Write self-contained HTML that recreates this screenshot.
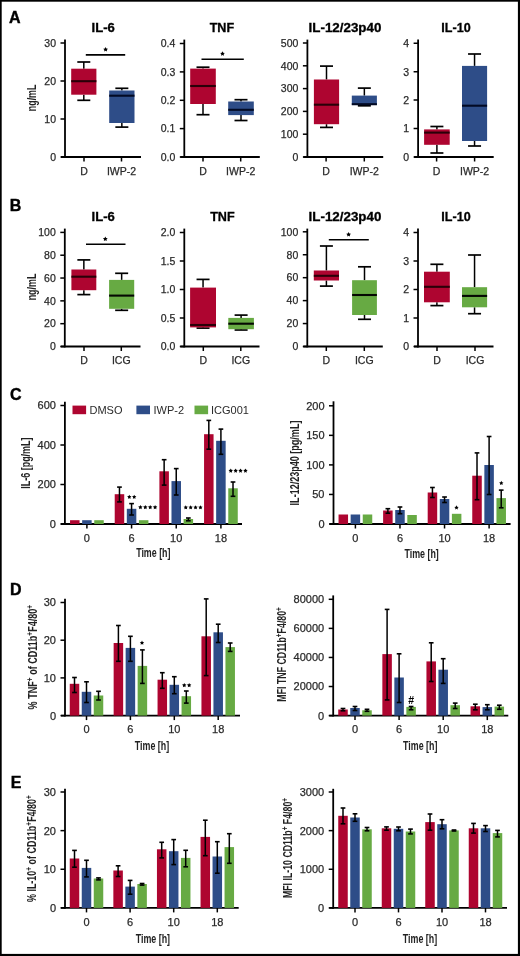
<!DOCTYPE html><html><head><meta charset="utf-8"><style>html,body{margin:0;padding:0;background:#fff;}svg{display:block;font-family:"Liberation Sans",sans-serif;}#w{will-change:transform;width:520px;height:956px;overflow:hidden;}</style></head><body><div id="w">
<svg width="520" height="956" viewBox="0 0 520 956">
<rect x="0" y="0" width="520" height="956" fill="#000"/>
<rect x="1.7" y="1.7" width="516.2" height="952.2" fill="#fff"/>
<text x="8.9" y="22.5" font-size="16" text-anchor="start" font-weight="bold" fill="#000" stroke="#000" stroke-width="0.4">A</text>
<text transform="translate(36.1,97.9) rotate(-90)" font-size="12.3" text-anchor="middle" font-weight="bold" fill="#222" textLength="26.6" lengthAdjust="spacingAndGlyphs">ng/mL</text>
<text x="103.2" y="31.9" font-size="12.3" text-anchor="middle" font-weight="bold" fill="#000" stroke="#000" stroke-width="0.3" textLength="23.3" lengthAdjust="spacingAndGlyphs">IL-6</text>
<line x1="65" y1="39.6" x2="65" y2="157.9" stroke="#000" stroke-width="1.8"/>
<line x1="61" y1="157" x2="141" y2="157" stroke="#000" stroke-width="1.8"/>
<line x1="60.5" y1="157" x2="65" y2="157" stroke="#000" stroke-width="1.5"/>
<text x="56" y="160.78" font-size="10.5" text-anchor="end" font-weight="normal" fill="#2a2a2a" stroke="#2a2a2a" stroke-width="0.25">0</text>
<line x1="60.5" y1="119" x2="65" y2="119" stroke="#000" stroke-width="1.5"/>
<text x="56" y="122.78" font-size="10.5" text-anchor="end" font-weight="normal" fill="#2a2a2a" stroke="#2a2a2a" stroke-width="0.25">10</text>
<line x1="60.5" y1="81" x2="65" y2="81" stroke="#000" stroke-width="1.5"/>
<text x="56" y="84.78" font-size="10.5" text-anchor="end" font-weight="normal" fill="#2a2a2a" stroke="#2a2a2a" stroke-width="0.25">20</text>
<line x1="60.5" y1="43" x2="65" y2="43" stroke="#000" stroke-width="1.5"/>
<text x="56" y="46.78" font-size="10.5" text-anchor="end" font-weight="normal" fill="#2a2a2a" stroke="#2a2a2a" stroke-width="0.25">30</text>
<line x1="84" y1="157" x2="84" y2="161.5" stroke="#000" stroke-width="1.5"/>
<text x="84" y="174.8" font-size="10.5" text-anchor="middle" font-weight="normal" fill="#2a2a2a" stroke="#2a2a2a" stroke-width="0.25">D</text>
<line x1="121.5" y1="157" x2="121.5" y2="161.5" stroke="#000" stroke-width="1.5"/>
<text x="121.5" y="174.8" font-size="10.5" text-anchor="middle" font-weight="normal" fill="#2a2a2a" stroke="#2a2a2a" stroke-width="0.25">IWP-2</text>
<line x1="83.8" y1="62" x2="83.8" y2="68.7" stroke="#000" stroke-width="1.5"/>
<line x1="83.8" y1="94.7" x2="83.8" y2="100.3" stroke="#000" stroke-width="1.5"/>
<line x1="77.3" y1="62" x2="90.3" y2="62" stroke="#000" stroke-width="1.7"/>
<line x1="77.3" y1="100.3" x2="90.3" y2="100.3" stroke="#000" stroke-width="1.7"/>
<rect x="71.2" y="68.7" width="25.2" height="26" fill="#AE0530"/>
<line x1="71.2" y1="81.2" x2="96.4" y2="81.2" stroke="#2a0008" stroke-width="2.1"/>
<line x1="121.85" y1="88.3" x2="121.85" y2="90.5" stroke="#000" stroke-width="1.5"/>
<line x1="121.85" y1="123" x2="121.85" y2="127.1" stroke="#000" stroke-width="1.5"/>
<line x1="115.35" y1="88.3" x2="128.35" y2="88.3" stroke="#000" stroke-width="1.7"/>
<line x1="115.35" y1="127.1" x2="128.35" y2="127.1" stroke="#000" stroke-width="1.7"/>
<rect x="109.2" y="90.5" width="25.3" height="32.5" fill="#2E4D88"/>
<line x1="109.2" y1="95.7" x2="134.5" y2="95.7" stroke="#020a24" stroke-width="2.1"/>
<line x1="85.8" y1="54.9" x2="125.2" y2="54.9" stroke="#000" stroke-width="1.6"/>
<polygon points="105.6,47.1 106.33,48.59 107.98,48.83 106.79,49.99 107.07,51.62 105.6,50.85 104.13,51.62 104.41,49.99 103.22,48.83 104.87,48.59" fill="#000"/>
<text x="221.9" y="31.9" font-size="12.3" text-anchor="middle" font-weight="bold" fill="#000" stroke="#000" stroke-width="0.3" textLength="24.5" lengthAdjust="spacingAndGlyphs">TNF</text>
<line x1="184.3" y1="39.6" x2="184.3" y2="157.9" stroke="#000" stroke-width="1.8"/>
<line x1="180.3" y1="157" x2="259.8" y2="157" stroke="#000" stroke-width="1.8"/>
<line x1="179.8" y1="157" x2="184.3" y2="157" stroke="#000" stroke-width="1.5"/>
<text x="175.3" y="160.78" font-size="10.5" text-anchor="end" font-weight="normal" fill="#2a2a2a" stroke="#2a2a2a" stroke-width="0.25">0.0</text>
<line x1="179.8" y1="128.6" x2="184.3" y2="128.6" stroke="#000" stroke-width="1.5"/>
<text x="175.3" y="132.38" font-size="10.5" text-anchor="end" font-weight="normal" fill="#2a2a2a" stroke="#2a2a2a" stroke-width="0.25">0.1</text>
<line x1="179.8" y1="100.3" x2="184.3" y2="100.3" stroke="#000" stroke-width="1.5"/>
<text x="175.3" y="104.08" font-size="10.5" text-anchor="end" font-weight="normal" fill="#2a2a2a" stroke="#2a2a2a" stroke-width="0.25">0.2</text>
<line x1="179.8" y1="71.9" x2="184.3" y2="71.9" stroke="#000" stroke-width="1.5"/>
<text x="175.3" y="75.68" font-size="10.5" text-anchor="end" font-weight="normal" fill="#2a2a2a" stroke="#2a2a2a" stroke-width="0.25">0.3</text>
<line x1="179.8" y1="43.5" x2="184.3" y2="43.5" stroke="#000" stroke-width="1.5"/>
<text x="175.3" y="47.28" font-size="10.5" text-anchor="end" font-weight="normal" fill="#2a2a2a" stroke="#2a2a2a" stroke-width="0.25">0.4</text>
<line x1="203" y1="157" x2="203" y2="161.5" stroke="#000" stroke-width="1.5"/>
<text x="203" y="174.8" font-size="10.5" text-anchor="middle" font-weight="normal" fill="#2a2a2a" stroke="#2a2a2a" stroke-width="0.25">D</text>
<line x1="240.7" y1="157" x2="240.7" y2="161.5" stroke="#000" stroke-width="1.5"/>
<text x="240.7" y="174.8" font-size="10.5" text-anchor="middle" font-weight="normal" fill="#2a2a2a" stroke="#2a2a2a" stroke-width="0.25">IWP-2</text>
<line x1="203" y1="67.2" x2="203" y2="68.6" stroke="#000" stroke-width="1.5"/>
<line x1="203" y1="104" x2="203" y2="114.7" stroke="#000" stroke-width="1.5"/>
<line x1="196.5" y1="67.2" x2="209.5" y2="67.2" stroke="#000" stroke-width="1.7"/>
<line x1="196.5" y1="114.7" x2="209.5" y2="114.7" stroke="#000" stroke-width="1.7"/>
<rect x="190.2" y="68.6" width="25.6" height="35.4" fill="#AE0530"/>
<line x1="190.2" y1="86" x2="215.8" y2="86" stroke="#2a0008" stroke-width="2.1"/>
<line x1="241" y1="99.7" x2="241" y2="101.5" stroke="#000" stroke-width="1.5"/>
<line x1="241" y1="115.1" x2="241" y2="120.5" stroke="#000" stroke-width="1.5"/>
<line x1="234.5" y1="99.7" x2="247.5" y2="99.7" stroke="#000" stroke-width="1.7"/>
<line x1="234.5" y1="120.5" x2="247.5" y2="120.5" stroke="#000" stroke-width="1.7"/>
<rect x="228.2" y="101.5" width="25.6" height="13.6" fill="#2E4D88"/>
<line x1="228.2" y1="109.8" x2="253.8" y2="109.8" stroke="#020a24" stroke-width="2.1"/>
<line x1="201.5" y1="59.3" x2="243.8" y2="59.3" stroke="#000" stroke-width="1.6"/>
<polygon points="222.5,51.2 223.23,52.69 224.88,52.93 223.69,54.09 223.97,55.72 222.5,54.95 221.03,55.72 221.31,54.09 220.12,52.93 221.77,52.69" fill="#000"/>
<text x="345" y="31.9" font-size="12.3" text-anchor="middle" font-weight="bold" fill="#000" stroke="#000" stroke-width="0.3" textLength="72.8" lengthAdjust="spacingAndGlyphs">IL-12/23p40</text>
<line x1="307.4" y1="39.6" x2="307.4" y2="157.9" stroke="#000" stroke-width="1.8"/>
<line x1="303.4" y1="157" x2="383.2" y2="157" stroke="#000" stroke-width="1.8"/>
<line x1="302.9" y1="157" x2="307.4" y2="157" stroke="#000" stroke-width="1.5"/>
<text x="298.4" y="160.78" font-size="10.5" text-anchor="end" font-weight="normal" fill="#2a2a2a" stroke="#2a2a2a" stroke-width="0.25">0</text>
<line x1="302.9" y1="134.2" x2="307.4" y2="134.2" stroke="#000" stroke-width="1.5"/>
<text x="298.4" y="137.98" font-size="10.5" text-anchor="end" font-weight="normal" fill="#2a2a2a" stroke="#2a2a2a" stroke-width="0.25">100</text>
<line x1="302.9" y1="111.4" x2="307.4" y2="111.4" stroke="#000" stroke-width="1.5"/>
<text x="298.4" y="115.18" font-size="10.5" text-anchor="end" font-weight="normal" fill="#2a2a2a" stroke="#2a2a2a" stroke-width="0.25">200</text>
<line x1="302.9" y1="88.6" x2="307.4" y2="88.6" stroke="#000" stroke-width="1.5"/>
<text x="298.4" y="92.38" font-size="10.5" text-anchor="end" font-weight="normal" fill="#2a2a2a" stroke="#2a2a2a" stroke-width="0.25">300</text>
<line x1="302.9" y1="65.8" x2="307.4" y2="65.8" stroke="#000" stroke-width="1.5"/>
<text x="298.4" y="69.58" font-size="10.5" text-anchor="end" font-weight="normal" fill="#2a2a2a" stroke="#2a2a2a" stroke-width="0.25">400</text>
<line x1="302.9" y1="43" x2="307.4" y2="43" stroke="#000" stroke-width="1.5"/>
<text x="298.4" y="46.78" font-size="10.5" text-anchor="end" font-weight="normal" fill="#2a2a2a" stroke="#2a2a2a" stroke-width="0.25">500</text>
<line x1="326.1" y1="157" x2="326.1" y2="161.5" stroke="#000" stroke-width="1.5"/>
<text x="326.1" y="174.8" font-size="10.5" text-anchor="middle" font-weight="normal" fill="#2a2a2a" stroke="#2a2a2a" stroke-width="0.25">D</text>
<line x1="364.3" y1="157" x2="364.3" y2="161.5" stroke="#000" stroke-width="1.5"/>
<text x="364.3" y="174.8" font-size="10.5" text-anchor="middle" font-weight="normal" fill="#2a2a2a" stroke="#2a2a2a" stroke-width="0.25">IWP-2</text>
<line x1="326.5" y1="66.1" x2="326.5" y2="79.5" stroke="#000" stroke-width="1.5"/>
<line x1="326.5" y1="124.2" x2="326.5" y2="127.4" stroke="#000" stroke-width="1.5"/>
<line x1="320" y1="66.1" x2="333" y2="66.1" stroke="#000" stroke-width="1.7"/>
<line x1="320" y1="127.4" x2="333" y2="127.4" stroke="#000" stroke-width="1.7"/>
<rect x="313.9" y="79.5" width="25.2" height="44.7" fill="#AE0530"/>
<line x1="313.9" y1="104.7" x2="339.1" y2="104.7" stroke="#2a0008" stroke-width="2.1"/>
<line x1="364.35" y1="88.1" x2="364.35" y2="95.6" stroke="#000" stroke-width="1.5"/>
<line x1="364.35" y1="105" x2="364.35" y2="105.8" stroke="#000" stroke-width="1.5"/>
<line x1="357.85" y1="88.1" x2="370.85" y2="88.1" stroke="#000" stroke-width="1.7"/>
<line x1="357.85" y1="105.8" x2="370.85" y2="105.8" stroke="#000" stroke-width="1.7"/>
<rect x="351.8" y="95.6" width="25.1" height="9.4" fill="#2E4D88"/>
<line x1="351.8" y1="104.2" x2="376.9" y2="104.2" stroke="#020a24" stroke-width="2.1"/>
<text x="456" y="31.9" font-size="12.3" text-anchor="middle" font-weight="bold" fill="#000" stroke="#000" stroke-width="0.3" textLength="29.3" lengthAdjust="spacingAndGlyphs">IL-10</text>
<line x1="418.1" y1="39.6" x2="418.1" y2="157.9" stroke="#000" stroke-width="1.8"/>
<line x1="414.1" y1="157" x2="493.7" y2="157" stroke="#000" stroke-width="1.8"/>
<line x1="413.6" y1="157" x2="418.1" y2="157" stroke="#000" stroke-width="1.5"/>
<text x="409.1" y="160.78" font-size="10.5" text-anchor="end" font-weight="normal" fill="#2a2a2a" stroke="#2a2a2a" stroke-width="0.25">0</text>
<line x1="413.6" y1="128.5" x2="418.1" y2="128.5" stroke="#000" stroke-width="1.5"/>
<text x="409.1" y="132.28" font-size="10.5" text-anchor="end" font-weight="normal" fill="#2a2a2a" stroke="#2a2a2a" stroke-width="0.25">1</text>
<line x1="413.6" y1="100" x2="418.1" y2="100" stroke="#000" stroke-width="1.5"/>
<text x="409.1" y="103.78" font-size="10.5" text-anchor="end" font-weight="normal" fill="#2a2a2a" stroke="#2a2a2a" stroke-width="0.25">2</text>
<line x1="413.6" y1="71.75" x2="418.1" y2="71.75" stroke="#000" stroke-width="1.5"/>
<text x="409.1" y="75.53" font-size="10.5" text-anchor="end" font-weight="normal" fill="#2a2a2a" stroke="#2a2a2a" stroke-width="0.25">3</text>
<line x1="413.6" y1="43.25" x2="418.1" y2="43.25" stroke="#000" stroke-width="1.5"/>
<text x="409.1" y="47.03" font-size="10.5" text-anchor="end" font-weight="normal" fill="#2a2a2a" stroke="#2a2a2a" stroke-width="0.25">4</text>
<line x1="436.6" y1="157" x2="436.6" y2="161.5" stroke="#000" stroke-width="1.5"/>
<text x="436.6" y="174.8" font-size="10.5" text-anchor="middle" font-weight="normal" fill="#2a2a2a" stroke="#2a2a2a" stroke-width="0.25">D</text>
<line x1="474.6" y1="157" x2="474.6" y2="161.5" stroke="#000" stroke-width="1.5"/>
<text x="474.6" y="174.8" font-size="10.5" text-anchor="middle" font-weight="normal" fill="#2a2a2a" stroke="#2a2a2a" stroke-width="0.25">IWP-2</text>
<line x1="436.9" y1="126.5" x2="436.9" y2="129.4" stroke="#000" stroke-width="1.5"/>
<line x1="436.9" y1="144.8" x2="436.9" y2="153" stroke="#000" stroke-width="1.5"/>
<line x1="430.4" y1="126.5" x2="443.4" y2="126.5" stroke="#000" stroke-width="1.7"/>
<line x1="430.4" y1="153" x2="443.4" y2="153" stroke="#000" stroke-width="1.7"/>
<rect x="424.1" y="129.4" width="25.6" height="15.4" fill="#AE0530"/>
<line x1="424.1" y1="132.6" x2="449.7" y2="132.6" stroke="#2a0008" stroke-width="2.1"/>
<line x1="474.55" y1="54" x2="474.55" y2="65.9" stroke="#000" stroke-width="1.5"/>
<line x1="474.55" y1="141" x2="474.55" y2="146" stroke="#000" stroke-width="1.5"/>
<line x1="468.05" y1="54" x2="481.05" y2="54" stroke="#000" stroke-width="1.7"/>
<line x1="468.05" y1="146" x2="481.05" y2="146" stroke="#000" stroke-width="1.7"/>
<rect x="462" y="65.9" width="25.1" height="75.1" fill="#2E4D88"/>
<line x1="462" y1="105.7" x2="487.1" y2="105.7" stroke="#020a24" stroke-width="2.1"/>
<text x="9.8" y="210.9" font-size="16" text-anchor="start" font-weight="bold" fill="#000" stroke="#000" stroke-width="0.4">B</text>
<text transform="translate(36.3,287) rotate(-90)" font-size="12.3" text-anchor="middle" font-weight="bold" fill="#222" textLength="26.7" lengthAdjust="spacingAndGlyphs">ng/mL</text>
<text x="103.2" y="221" font-size="12.3" text-anchor="middle" font-weight="bold" fill="#000" stroke="#000" stroke-width="0.3" textLength="23.3" lengthAdjust="spacingAndGlyphs">IL-6</text>
<line x1="64.8" y1="228.6" x2="64.8" y2="347.4" stroke="#000" stroke-width="1.8"/>
<line x1="60.8" y1="346.5" x2="140.5" y2="346.5" stroke="#000" stroke-width="1.8"/>
<line x1="60.3" y1="346.5" x2="64.8" y2="346.5" stroke="#000" stroke-width="1.5"/>
<text x="55.8" y="350.28" font-size="10.5" text-anchor="end" font-weight="normal" fill="#2a2a2a" stroke="#2a2a2a" stroke-width="0.25">0</text>
<line x1="60.3" y1="323.68" x2="64.8" y2="323.68" stroke="#000" stroke-width="1.5"/>
<text x="55.8" y="327.46" font-size="10.5" text-anchor="end" font-weight="normal" fill="#2a2a2a" stroke="#2a2a2a" stroke-width="0.25">20</text>
<line x1="60.3" y1="300.86" x2="64.8" y2="300.86" stroke="#000" stroke-width="1.5"/>
<text x="55.8" y="304.64" font-size="10.5" text-anchor="end" font-weight="normal" fill="#2a2a2a" stroke="#2a2a2a" stroke-width="0.25">40</text>
<line x1="60.3" y1="278.04" x2="64.8" y2="278.04" stroke="#000" stroke-width="1.5"/>
<text x="55.8" y="281.82" font-size="10.5" text-anchor="end" font-weight="normal" fill="#2a2a2a" stroke="#2a2a2a" stroke-width="0.25">60</text>
<line x1="60.3" y1="255.22" x2="64.8" y2="255.22" stroke="#000" stroke-width="1.5"/>
<text x="55.8" y="259" font-size="10.5" text-anchor="end" font-weight="normal" fill="#2a2a2a" stroke="#2a2a2a" stroke-width="0.25">80</text>
<line x1="60.3" y1="232.4" x2="64.8" y2="232.4" stroke="#000" stroke-width="1.5"/>
<text x="55.8" y="236.18" font-size="10.5" text-anchor="end" font-weight="normal" fill="#2a2a2a" stroke="#2a2a2a" stroke-width="0.25">100</text>
<line x1="84" y1="346.5" x2="84" y2="351" stroke="#000" stroke-width="1.5"/>
<text x="84" y="363.8" font-size="10.5" text-anchor="middle" font-weight="normal" fill="#2a2a2a" stroke="#2a2a2a" stroke-width="0.25">D</text>
<line x1="121.3" y1="346.5" x2="121.3" y2="351" stroke="#000" stroke-width="1.5"/>
<text x="121.3" y="363.8" font-size="10.5" text-anchor="middle" font-weight="normal" fill="#2a2a2a" stroke="#2a2a2a" stroke-width="0.25">ICG</text>
<line x1="83.85" y1="259.9" x2="83.85" y2="269.5" stroke="#000" stroke-width="1.5"/>
<line x1="83.85" y1="290.2" x2="83.85" y2="294.6" stroke="#000" stroke-width="1.5"/>
<line x1="77.35" y1="259.9" x2="90.35" y2="259.9" stroke="#000" stroke-width="1.7"/>
<line x1="77.35" y1="294.6" x2="90.35" y2="294.6" stroke="#000" stroke-width="1.7"/>
<rect x="71.4" y="269.5" width="24.9" height="20.7" fill="#AE0530"/>
<line x1="71.4" y1="276.7" x2="96.3" y2="276.7" stroke="#2a0008" stroke-width="2.1"/>
<line x1="121.65" y1="273.3" x2="121.65" y2="279.9" stroke="#000" stroke-width="1.5"/>
<line x1="121.65" y1="308.8" x2="121.65" y2="310.3" stroke="#000" stroke-width="1.5"/>
<line x1="115.15" y1="273.3" x2="128.15" y2="273.3" stroke="#000" stroke-width="1.7"/>
<line x1="115.15" y1="310.3" x2="128.15" y2="310.3" stroke="#000" stroke-width="1.7"/>
<rect x="109.1" y="279.9" width="25.1" height="28.9" fill="#67AA43"/>
<line x1="109.1" y1="295.6" x2="134.2" y2="295.6" stroke="#040802" stroke-width="2.1"/>
<line x1="86" y1="244.2" x2="125.5" y2="244.2" stroke="#000" stroke-width="1.6"/>
<polygon points="105.3,236.6 106.03,238.09 107.68,238.33 106.49,239.49 106.77,241.12 105.3,240.35 103.83,241.12 104.11,239.49 102.92,238.33 104.57,238.09" fill="#000"/>
<text x="222.4" y="221" font-size="12.3" text-anchor="middle" font-weight="bold" fill="#000" stroke="#000" stroke-width="0.3" textLength="24.5" lengthAdjust="spacingAndGlyphs">TNF</text>
<line x1="184.3" y1="228.6" x2="184.3" y2="347.4" stroke="#000" stroke-width="1.8"/>
<line x1="180.3" y1="346.5" x2="259.5" y2="346.5" stroke="#000" stroke-width="1.8"/>
<line x1="179.8" y1="346.5" x2="184.3" y2="346.5" stroke="#000" stroke-width="1.5"/>
<text x="175.3" y="350.28" font-size="10.5" text-anchor="end" font-weight="normal" fill="#2a2a2a" stroke="#2a2a2a" stroke-width="0.25">0.0</text>
<line x1="179.8" y1="318" x2="184.3" y2="318" stroke="#000" stroke-width="1.5"/>
<text x="175.3" y="321.78" font-size="10.5" text-anchor="end" font-weight="normal" fill="#2a2a2a" stroke="#2a2a2a" stroke-width="0.25">0.5</text>
<line x1="179.8" y1="289.5" x2="184.3" y2="289.5" stroke="#000" stroke-width="1.5"/>
<text x="175.3" y="293.28" font-size="10.5" text-anchor="end" font-weight="normal" fill="#2a2a2a" stroke="#2a2a2a" stroke-width="0.25">1.0</text>
<line x1="179.8" y1="261" x2="184.3" y2="261" stroke="#000" stroke-width="1.5"/>
<text x="175.3" y="264.78" font-size="10.5" text-anchor="end" font-weight="normal" fill="#2a2a2a" stroke="#2a2a2a" stroke-width="0.25">1.5</text>
<line x1="179.8" y1="232.5" x2="184.3" y2="232.5" stroke="#000" stroke-width="1.5"/>
<text x="175.3" y="236.28" font-size="10.5" text-anchor="end" font-weight="normal" fill="#2a2a2a" stroke="#2a2a2a" stroke-width="0.25">2.0</text>
<line x1="203.3" y1="346.5" x2="203.3" y2="351" stroke="#000" stroke-width="1.5"/>
<text x="203.3" y="363.8" font-size="10.5" text-anchor="middle" font-weight="normal" fill="#2a2a2a" stroke="#2a2a2a" stroke-width="0.25">D</text>
<line x1="240.8" y1="346.5" x2="240.8" y2="351" stroke="#000" stroke-width="1.5"/>
<text x="240.8" y="363.8" font-size="10.5" text-anchor="middle" font-weight="normal" fill="#2a2a2a" stroke="#2a2a2a" stroke-width="0.25">ICG</text>
<line x1="203.05" y1="279.4" x2="203.05" y2="287.6" stroke="#000" stroke-width="1.5"/>
<line x1="203.05" y1="327.4" x2="203.05" y2="328.1" stroke="#000" stroke-width="1.5"/>
<line x1="196.55" y1="279.4" x2="209.55" y2="279.4" stroke="#000" stroke-width="1.7"/>
<line x1="196.55" y1="328.1" x2="209.55" y2="328.1" stroke="#000" stroke-width="1.7"/>
<rect x="190.1" y="287.6" width="25.9" height="39.8" fill="#AE0530"/>
<line x1="190.1" y1="325" x2="216" y2="325" stroke="#2a0008" stroke-width="2.1"/>
<line x1="241.1" y1="315.1" x2="241.1" y2="317.9" stroke="#000" stroke-width="1.5"/>
<line x1="241.1" y1="329.2" x2="241.1" y2="330" stroke="#000" stroke-width="1.5"/>
<line x1="234.6" y1="315.1" x2="247.6" y2="315.1" stroke="#000" stroke-width="1.7"/>
<line x1="234.6" y1="330" x2="247.6" y2="330" stroke="#000" stroke-width="1.7"/>
<rect x="228.3" y="317.9" width="25.6" height="11.3" fill="#67AA43"/>
<line x1="228.3" y1="323.7" x2="253.9" y2="323.7" stroke="#040802" stroke-width="2.1"/>
<text x="345" y="221" font-size="12.3" text-anchor="middle" font-weight="bold" fill="#000" stroke="#000" stroke-width="0.3" textLength="72.8" lengthAdjust="spacingAndGlyphs">IL-12/23p40</text>
<line x1="307.3" y1="228.6" x2="307.3" y2="347.4" stroke="#000" stroke-width="1.8"/>
<line x1="303.3" y1="346.5" x2="382.8" y2="346.5" stroke="#000" stroke-width="1.8"/>
<line x1="302.8" y1="346.5" x2="307.3" y2="346.5" stroke="#000" stroke-width="1.5"/>
<text x="298.3" y="350.28" font-size="10.5" text-anchor="end" font-weight="normal" fill="#2a2a2a" stroke="#2a2a2a" stroke-width="0.25">0</text>
<line x1="302.8" y1="323.56" x2="307.3" y2="323.56" stroke="#000" stroke-width="1.5"/>
<text x="298.3" y="327.34" font-size="10.5" text-anchor="end" font-weight="normal" fill="#2a2a2a" stroke="#2a2a2a" stroke-width="0.25">20</text>
<line x1="302.8" y1="300.62" x2="307.3" y2="300.62" stroke="#000" stroke-width="1.5"/>
<text x="298.3" y="304.4" font-size="10.5" text-anchor="end" font-weight="normal" fill="#2a2a2a" stroke="#2a2a2a" stroke-width="0.25">40</text>
<line x1="302.8" y1="277.68" x2="307.3" y2="277.68" stroke="#000" stroke-width="1.5"/>
<text x="298.3" y="281.46" font-size="10.5" text-anchor="end" font-weight="normal" fill="#2a2a2a" stroke="#2a2a2a" stroke-width="0.25">60</text>
<line x1="302.8" y1="254.74" x2="307.3" y2="254.74" stroke="#000" stroke-width="1.5"/>
<text x="298.3" y="258.52" font-size="10.5" text-anchor="end" font-weight="normal" fill="#2a2a2a" stroke="#2a2a2a" stroke-width="0.25">80</text>
<line x1="302.8" y1="231.8" x2="307.3" y2="231.8" stroke="#000" stroke-width="1.5"/>
<text x="298.3" y="235.58" font-size="10.5" text-anchor="end" font-weight="normal" fill="#2a2a2a" stroke="#2a2a2a" stroke-width="0.25">100</text>
<line x1="326.3" y1="346.5" x2="326.3" y2="351" stroke="#000" stroke-width="1.5"/>
<text x="326.3" y="363.8" font-size="10.5" text-anchor="middle" font-weight="normal" fill="#2a2a2a" stroke="#2a2a2a" stroke-width="0.25">D</text>
<line x1="364.3" y1="346.5" x2="364.3" y2="351" stroke="#000" stroke-width="1.5"/>
<text x="364.3" y="363.8" font-size="10.5" text-anchor="middle" font-weight="normal" fill="#2a2a2a" stroke="#2a2a2a" stroke-width="0.25">ICG</text>
<line x1="326.4" y1="246" x2="326.4" y2="270.5" stroke="#000" stroke-width="1.5"/>
<line x1="326.4" y1="280.5" x2="326.4" y2="286.1" stroke="#000" stroke-width="1.5"/>
<line x1="319.9" y1="246" x2="332.9" y2="246" stroke="#000" stroke-width="1.7"/>
<line x1="319.9" y1="286.1" x2="332.9" y2="286.1" stroke="#000" stroke-width="1.7"/>
<rect x="313.8" y="270.5" width="25.2" height="10" fill="#AE0530"/>
<line x1="313.8" y1="275.8" x2="339" y2="275.8" stroke="#2a0008" stroke-width="2.1"/>
<line x1="364.5" y1="266.8" x2="364.5" y2="280.2" stroke="#000" stroke-width="1.5"/>
<line x1="364.5" y1="315" x2="364.5" y2="319.3" stroke="#000" stroke-width="1.5"/>
<line x1="358" y1="266.8" x2="371" y2="266.8" stroke="#000" stroke-width="1.7"/>
<line x1="358" y1="319.3" x2="371" y2="319.3" stroke="#000" stroke-width="1.7"/>
<rect x="352.1" y="280.2" width="24.8" height="34.8" fill="#67AA43"/>
<line x1="352.1" y1="295" x2="376.9" y2="295" stroke="#040802" stroke-width="2.1"/>
<line x1="328.8" y1="239.7" x2="368.8" y2="239.7" stroke="#000" stroke-width="1.6"/>
<polygon points="348.6,232 349.33,233.49 350.98,233.73 349.79,234.89 350.07,236.52 348.6,235.75 347.13,236.52 347.41,234.89 346.22,233.73 347.87,233.49" fill="#000"/>
<text x="456" y="221" font-size="12.3" text-anchor="middle" font-weight="bold" fill="#000" stroke="#000" stroke-width="0.3" textLength="29.3" lengthAdjust="spacingAndGlyphs">IL-10</text>
<line x1="418" y1="228.6" x2="418" y2="347.4" stroke="#000" stroke-width="1.8"/>
<line x1="414" y1="346.5" x2="493.5" y2="346.5" stroke="#000" stroke-width="1.8"/>
<line x1="413.5" y1="346.5" x2="418" y2="346.5" stroke="#000" stroke-width="1.5"/>
<text x="409" y="350.28" font-size="10.5" text-anchor="end" font-weight="normal" fill="#2a2a2a" stroke="#2a2a2a" stroke-width="0.25">0</text>
<line x1="413.5" y1="318" x2="418" y2="318" stroke="#000" stroke-width="1.5"/>
<text x="409" y="321.78" font-size="10.5" text-anchor="end" font-weight="normal" fill="#2a2a2a" stroke="#2a2a2a" stroke-width="0.25">1</text>
<line x1="413.5" y1="289.5" x2="418" y2="289.5" stroke="#000" stroke-width="1.5"/>
<text x="409" y="293.28" font-size="10.5" text-anchor="end" font-weight="normal" fill="#2a2a2a" stroke="#2a2a2a" stroke-width="0.25">2</text>
<line x1="413.5" y1="261" x2="418" y2="261" stroke="#000" stroke-width="1.5"/>
<text x="409" y="264.78" font-size="10.5" text-anchor="end" font-weight="normal" fill="#2a2a2a" stroke="#2a2a2a" stroke-width="0.25">3</text>
<line x1="413.5" y1="232.5" x2="418" y2="232.5" stroke="#000" stroke-width="1.5"/>
<text x="409" y="236.28" font-size="10.5" text-anchor="end" font-weight="normal" fill="#2a2a2a" stroke="#2a2a2a" stroke-width="0.25">4</text>
<line x1="437" y1="346.5" x2="437" y2="351" stroke="#000" stroke-width="1.5"/>
<text x="437" y="363.8" font-size="10.5" text-anchor="middle" font-weight="normal" fill="#2a2a2a" stroke="#2a2a2a" stroke-width="0.25">D</text>
<line x1="475" y1="346.5" x2="475" y2="351" stroke="#000" stroke-width="1.5"/>
<text x="475" y="363.8" font-size="10.5" text-anchor="middle" font-weight="normal" fill="#2a2a2a" stroke="#2a2a2a" stroke-width="0.25">ICG</text>
<line x1="436.9" y1="264.3" x2="436.9" y2="271.7" stroke="#000" stroke-width="1.5"/>
<line x1="436.9" y1="302.3" x2="436.9" y2="305.6" stroke="#000" stroke-width="1.5"/>
<line x1="430.4" y1="264.3" x2="443.4" y2="264.3" stroke="#000" stroke-width="1.7"/>
<line x1="430.4" y1="305.6" x2="443.4" y2="305.6" stroke="#000" stroke-width="1.7"/>
<rect x="424" y="271.7" width="25.8" height="30.6" fill="#AE0530"/>
<line x1="424" y1="286.8" x2="449.8" y2="286.8" stroke="#2a0008" stroke-width="2.1"/>
<line x1="474.55" y1="255" x2="474.55" y2="287.2" stroke="#000" stroke-width="1.5"/>
<line x1="474.55" y1="307.3" x2="474.55" y2="313.7" stroke="#000" stroke-width="1.5"/>
<line x1="468.05" y1="255" x2="481.05" y2="255" stroke="#000" stroke-width="1.7"/>
<line x1="468.05" y1="313.7" x2="481.05" y2="313.7" stroke="#000" stroke-width="1.7"/>
<rect x="462" y="287.2" width="25.1" height="20.1" fill="#67AA43"/>
<line x1="462" y1="295.9" x2="487.1" y2="295.9" stroke="#040802" stroke-width="2.1"/>
<text x="10" y="400.4" font-size="16" text-anchor="start" font-weight="bold" fill="#000" stroke="#000" stroke-width="0.4">C</text>
<rect x="72.5" y="405.6" width="13.6" height="8.6" fill="#AE0530"/>
<text x="89.5" y="413.8" font-size="11" text-anchor="start" font-weight="normal" fill="#2a2a2a">DMSO</text>
<rect x="136.4" y="405.6" width="13.6" height="8.6" fill="#2E4D88"/>
<text x="153.5" y="413.8" font-size="11" text-anchor="start" font-weight="normal" fill="#2a2a2a">IWP-2</text>
<rect x="194.5" y="405.6" width="13.6" height="8.6" fill="#67AA43"/>
<text x="211" y="413.8" font-size="11" text-anchor="start" font-weight="normal" fill="#2a2a2a">ICG001</text>
<text transform="translate(30.1,463.1) rotate(-90)" font-size="12.3" text-anchor="middle" font-weight="bold" fill="#222" textLength="51.2" lengthAdjust="spacingAndGlyphs">IL-6 [pg/mL]</text>
<line x1="64.9" y1="401.8" x2="64.9" y2="524.9" stroke="#000" stroke-width="1.8"/>
<line x1="60.9" y1="524" x2="242" y2="524" stroke="#000" stroke-width="1.8"/>
<line x1="60.4" y1="524" x2="64.9" y2="524" stroke="#000" stroke-width="1.5"/>
<text x="55.9" y="527.96" font-size="11" text-anchor="end" font-weight="normal" fill="#2a2a2a" stroke="#2a2a2a" stroke-width="0.25">0</text>
<line x1="60.4" y1="484.5" x2="64.9" y2="484.5" stroke="#000" stroke-width="1.5"/>
<text x="55.9" y="488.46" font-size="11" text-anchor="end" font-weight="normal" fill="#2a2a2a" stroke="#2a2a2a" stroke-width="0.25">200</text>
<line x1="60.4" y1="445" x2="64.9" y2="445" stroke="#000" stroke-width="1.5"/>
<text x="55.9" y="448.96" font-size="11" text-anchor="end" font-weight="normal" fill="#2a2a2a" stroke="#2a2a2a" stroke-width="0.25">400</text>
<line x1="60.4" y1="405.5" x2="64.9" y2="405.5" stroke="#000" stroke-width="1.5"/>
<text x="55.9" y="409.46" font-size="11" text-anchor="end" font-weight="normal" fill="#2a2a2a" stroke="#2a2a2a" stroke-width="0.25">600</text>
<line x1="86.9" y1="524" x2="86.9" y2="528.5" stroke="#000" stroke-width="1.5"/>
<text x="86.9" y="541.6" font-size="11" text-anchor="middle" font-weight="normal" fill="#2a2a2a" stroke="#2a2a2a" stroke-width="0.25">0</text>
<line x1="131.57" y1="524" x2="131.57" y2="528.5" stroke="#000" stroke-width="1.5"/>
<text x="131.57" y="541.6" font-size="11" text-anchor="middle" font-weight="normal" fill="#2a2a2a" stroke="#2a2a2a" stroke-width="0.25">6</text>
<line x1="176.24" y1="524" x2="176.24" y2="528.5" stroke="#000" stroke-width="1.5"/>
<text x="176.24" y="541.6" font-size="11" text-anchor="middle" font-weight="normal" fill="#2a2a2a" stroke="#2a2a2a" stroke-width="0.25">10</text>
<line x1="220.91" y1="524" x2="220.91" y2="528.5" stroke="#000" stroke-width="1.5"/>
<text x="220.91" y="541.6" font-size="11" text-anchor="middle" font-weight="normal" fill="#2a2a2a" stroke="#2a2a2a" stroke-width="0.25">18</text>
<text transform="translate(153.3,557.1) scale(0.71,1)" font-size="12.5" text-anchor="middle" font-weight="bold" fill="#222">Time [h]</text>
<rect x="70.05" y="520.2" width="9.5" height="3.8" fill="#AE0530"/>
<rect x="82.15" y="520.2" width="9.5" height="3.8" fill="#2E4D88"/>
<rect x="94.25" y="520.2" width="9.5" height="3.8" fill="#67AA43"/>
<rect x="114.72" y="494.2" width="9.5" height="29.8" fill="#AE0530"/>
<line x1="119.47" y1="487.1" x2="119.47" y2="501.9" stroke="#000" stroke-width="1.5"/>
<line x1="117.12" y1="487.1" x2="121.82" y2="487.1" stroke="#000" stroke-width="1.6"/>
<line x1="117.12" y1="501.9" x2="121.82" y2="501.9" stroke="#000" stroke-width="1.6"/>
<rect x="126.82" y="508.8" width="9.5" height="15.2" fill="#2E4D88"/>
<line x1="131.57" y1="503.6" x2="131.57" y2="515" stroke="#000" stroke-width="1.5"/>
<line x1="129.22" y1="503.6" x2="133.92" y2="503.6" stroke="#000" stroke-width="1.6"/>
<line x1="129.22" y1="515" x2="133.92" y2="515" stroke="#000" stroke-width="1.6"/>
<rect x="138.92" y="520.2" width="9.5" height="3.8" fill="#67AA43"/>
<rect x="159.39" y="471.3" width="9.5" height="52.7" fill="#AE0530"/>
<line x1="164.14" y1="459.7" x2="164.14" y2="485.1" stroke="#000" stroke-width="1.5"/>
<line x1="161.79" y1="459.7" x2="166.49" y2="459.7" stroke="#000" stroke-width="1.6"/>
<line x1="161.79" y1="485.1" x2="166.49" y2="485.1" stroke="#000" stroke-width="1.6"/>
<rect x="171.49" y="481.1" width="9.5" height="42.9" fill="#2E4D88"/>
<line x1="176.24" y1="468.6" x2="176.24" y2="495" stroke="#000" stroke-width="1.5"/>
<line x1="173.89" y1="468.6" x2="178.59" y2="468.6" stroke="#000" stroke-width="1.6"/>
<line x1="173.89" y1="495" x2="178.59" y2="495" stroke="#000" stroke-width="1.6"/>
<rect x="183.59" y="519" width="9.5" height="5" fill="#67AA43"/>
<line x1="188.34" y1="518" x2="188.34" y2="520.8" stroke="#000" stroke-width="1.5"/>
<line x1="185.99" y1="518" x2="190.69" y2="518" stroke="#000" stroke-width="1.6"/>
<line x1="185.99" y1="520.8" x2="190.69" y2="520.8" stroke="#000" stroke-width="1.6"/>
<rect x="204.06" y="434.2" width="9.5" height="89.8" fill="#AE0530"/>
<line x1="208.81" y1="420.4" x2="208.81" y2="449.2" stroke="#000" stroke-width="1.5"/>
<line x1="206.46" y1="420.4" x2="211.16" y2="420.4" stroke="#000" stroke-width="1.6"/>
<line x1="206.46" y1="449.2" x2="211.16" y2="449.2" stroke="#000" stroke-width="1.6"/>
<rect x="216.16" y="440.8" width="9.5" height="83.2" fill="#2E4D88"/>
<line x1="220.91" y1="429.1" x2="220.91" y2="454.3" stroke="#000" stroke-width="1.5"/>
<line x1="218.56" y1="429.1" x2="223.26" y2="429.1" stroke="#000" stroke-width="1.6"/>
<line x1="218.56" y1="454.3" x2="223.26" y2="454.3" stroke="#000" stroke-width="1.6"/>
<rect x="228.26" y="488.3" width="9.5" height="35.7" fill="#67AA43"/>
<line x1="233.01" y1="482" x2="233.01" y2="496.3" stroke="#000" stroke-width="1.5"/>
<line x1="230.66" y1="482" x2="235.36" y2="482" stroke="#000" stroke-width="1.6"/>
<line x1="230.66" y1="496.3" x2="235.36" y2="496.3" stroke="#000" stroke-width="1.6"/>
<polygon points="129.3,494.7 129.98,496.07 131.49,496.29 130.39,497.36 130.65,498.86 129.3,498.15 127.95,498.86 128.21,497.36 127.11,496.29 128.62,496.07" fill="#000"/>
<polygon points="134.2,494.7 134.88,496.07 136.39,496.29 135.29,497.36 135.55,498.86 134.2,498.15 132.85,498.86 133.11,497.36 132.01,496.29 133.52,496.07" fill="#000"/>
<polygon points="140.4,505 141.08,506.37 142.59,506.59 141.49,507.66 141.75,509.16 140.4,508.45 139.05,509.16 139.31,507.66 138.21,506.59 139.72,506.37" fill="#000"/>
<polygon points="145.3,505 145.98,506.37 147.49,506.59 146.39,507.66 146.65,509.16 145.3,508.45 143.95,509.16 144.21,507.66 143.11,506.59 144.62,506.37" fill="#000"/>
<polygon points="150.2,505 150.88,506.37 152.39,506.59 151.29,507.66 151.55,509.16 150.2,508.45 148.85,509.16 149.11,507.66 148.01,506.59 149.52,506.37" fill="#000"/>
<polygon points="155.1,505 155.78,506.37 157.29,506.59 156.19,507.66 156.45,509.16 155.1,508.45 153.75,509.16 154.01,507.66 152.91,506.59 154.42,506.37" fill="#000"/>
<polygon points="185.75,505.2 186.43,506.57 187.94,506.79 186.84,507.86 187.1,509.36 185.75,508.65 184.4,509.36 184.66,507.86 183.56,506.79 185.07,506.57" fill="#000"/>
<polygon points="190.65,505.2 191.33,506.57 192.84,506.79 191.74,507.86 192,509.36 190.65,508.65 189.3,509.36 189.56,507.86 188.46,506.79 189.97,506.57" fill="#000"/>
<polygon points="195.55,505.2 196.23,506.57 197.74,506.79 196.64,507.86 196.9,509.36 195.55,508.65 194.2,509.36 194.46,507.86 193.36,506.79 194.87,506.57" fill="#000"/>
<polygon points="200.45,505.2 201.13,506.57 202.64,506.79 201.54,507.86 201.8,509.36 200.45,508.65 199.1,509.36 199.36,507.86 198.26,506.79 199.77,506.57" fill="#000"/>
<polygon points="230.75,468.5 231.43,469.87 232.94,470.09 231.84,471.16 232.1,472.66 230.75,471.95 229.4,472.66 229.66,471.16 228.56,470.09 230.07,469.87" fill="#000"/>
<polygon points="235.65,468.5 236.33,469.87 237.84,470.09 236.74,471.16 237,472.66 235.65,471.95 234.3,472.66 234.56,471.16 233.46,470.09 234.97,469.87" fill="#000"/>
<polygon points="240.55,468.5 241.23,469.87 242.74,470.09 241.64,471.16 241.9,472.66 240.55,471.95 239.2,472.66 239.46,471.16 238.36,470.09 239.87,469.87" fill="#000"/>
<polygon points="245.45,468.5 246.13,469.87 247.64,470.09 246.54,471.16 246.8,472.66 245.45,471.95 244.1,472.66 244.36,471.16 243.26,470.09 244.77,469.87" fill="#000"/>
<text transform="translate(298.5,463) rotate(-90)" font-size="12.3" text-anchor="middle" font-weight="bold" fill="#222" textLength="84.8" lengthAdjust="spacingAndGlyphs">IL-12/23p40 [pg/mL]</text>
<line x1="333.5" y1="401.3" x2="333.5" y2="524.9" stroke="#000" stroke-width="1.8"/>
<line x1="329.5" y1="524" x2="510.6" y2="524" stroke="#000" stroke-width="1.8"/>
<line x1="329" y1="524" x2="333.5" y2="524" stroke="#000" stroke-width="1.5"/>
<text x="324.5" y="527.96" font-size="11" text-anchor="end" font-weight="normal" fill="#2a2a2a" stroke="#2a2a2a" stroke-width="0.25">0</text>
<line x1="329" y1="494.45" x2="333.5" y2="494.45" stroke="#000" stroke-width="1.5"/>
<text x="324.5" y="498.41" font-size="11" text-anchor="end" font-weight="normal" fill="#2a2a2a" stroke="#2a2a2a" stroke-width="0.25">50</text>
<line x1="329" y1="464.9" x2="333.5" y2="464.9" stroke="#000" stroke-width="1.5"/>
<text x="324.5" y="468.86" font-size="11" text-anchor="end" font-weight="normal" fill="#2a2a2a" stroke="#2a2a2a" stroke-width="0.25">100</text>
<line x1="329" y1="435.35" x2="333.5" y2="435.35" stroke="#000" stroke-width="1.5"/>
<text x="324.5" y="439.31" font-size="11" text-anchor="end" font-weight="normal" fill="#2a2a2a" stroke="#2a2a2a" stroke-width="0.25">150</text>
<line x1="329" y1="405.8" x2="333.5" y2="405.8" stroke="#000" stroke-width="1.5"/>
<text x="324.5" y="409.76" font-size="11" text-anchor="end" font-weight="normal" fill="#2a2a2a" stroke="#2a2a2a" stroke-width="0.25">200</text>
<line x1="355.4" y1="524" x2="355.4" y2="528.5" stroke="#000" stroke-width="1.5"/>
<text x="355.4" y="541.6" font-size="11" text-anchor="middle" font-weight="normal" fill="#2a2a2a" stroke="#2a2a2a" stroke-width="0.25">0</text>
<line x1="399.97" y1="524" x2="399.97" y2="528.5" stroke="#000" stroke-width="1.5"/>
<text x="399.97" y="541.6" font-size="11" text-anchor="middle" font-weight="normal" fill="#2a2a2a" stroke="#2a2a2a" stroke-width="0.25">6</text>
<line x1="444.54" y1="524" x2="444.54" y2="528.5" stroke="#000" stroke-width="1.5"/>
<text x="444.54" y="541.6" font-size="11" text-anchor="middle" font-weight="normal" fill="#2a2a2a" stroke="#2a2a2a" stroke-width="0.25">10</text>
<line x1="489.11" y1="524" x2="489.11" y2="528.5" stroke="#000" stroke-width="1.5"/>
<text x="489.11" y="541.6" font-size="11" text-anchor="middle" font-weight="normal" fill="#2a2a2a" stroke="#2a2a2a" stroke-width="0.25">18</text>
<text transform="translate(421.6,557.5) scale(0.71,1)" font-size="12.5" text-anchor="middle" font-weight="bold" fill="#222">Time [h]</text>
<rect x="338.55" y="514.5" width="9.5" height="9.5" fill="#AE0530"/>
<rect x="350.65" y="514.5" width="9.5" height="9.5" fill="#2E4D88"/>
<rect x="362.75" y="514.5" width="9.5" height="9.5" fill="#67AA43"/>
<rect x="383.12" y="510.5" width="9.5" height="13.5" fill="#AE0530"/>
<line x1="387.87" y1="508.7" x2="387.87" y2="513.2" stroke="#000" stroke-width="1.5"/>
<line x1="385.52" y1="508.7" x2="390.22" y2="508.7" stroke="#000" stroke-width="1.6"/>
<line x1="385.52" y1="513.2" x2="390.22" y2="513.2" stroke="#000" stroke-width="1.6"/>
<rect x="395.22" y="510" width="9.5" height="14" fill="#2E4D88"/>
<line x1="399.97" y1="507" x2="399.97" y2="513.7" stroke="#000" stroke-width="1.5"/>
<line x1="397.62" y1="507" x2="402.32" y2="507" stroke="#000" stroke-width="1.6"/>
<line x1="397.62" y1="513.7" x2="402.32" y2="513.7" stroke="#000" stroke-width="1.6"/>
<rect x="407.32" y="515" width="9.5" height="9" fill="#67AA43"/>
<rect x="427.69" y="492.5" width="9.5" height="31.5" fill="#AE0530"/>
<line x1="432.44" y1="487.5" x2="432.44" y2="497.5" stroke="#000" stroke-width="1.5"/>
<line x1="430.09" y1="487.5" x2="434.79" y2="487.5" stroke="#000" stroke-width="1.6"/>
<line x1="430.09" y1="497.5" x2="434.79" y2="497.5" stroke="#000" stroke-width="1.6"/>
<rect x="439.79" y="499" width="9.5" height="25" fill="#2E4D88"/>
<line x1="444.54" y1="497" x2="444.54" y2="502.5" stroke="#000" stroke-width="1.5"/>
<line x1="442.19" y1="497" x2="446.89" y2="497" stroke="#000" stroke-width="1.6"/>
<line x1="442.19" y1="502.5" x2="446.89" y2="502.5" stroke="#000" stroke-width="1.6"/>
<rect x="451.89" y="513.8" width="9.5" height="10.2" fill="#67AA43"/>
<rect x="472.26" y="475.7" width="9.5" height="48.3" fill="#AE0530"/>
<line x1="477.01" y1="452.9" x2="477.01" y2="499.7" stroke="#000" stroke-width="1.5"/>
<line x1="474.66" y1="452.9" x2="479.36" y2="452.9" stroke="#000" stroke-width="1.6"/>
<line x1="474.66" y1="499.7" x2="479.36" y2="499.7" stroke="#000" stroke-width="1.6"/>
<rect x="484.36" y="465" width="9.5" height="59" fill="#2E4D88"/>
<line x1="489.11" y1="436.5" x2="489.11" y2="494.5" stroke="#000" stroke-width="1.5"/>
<line x1="486.76" y1="436.5" x2="491.46" y2="436.5" stroke="#000" stroke-width="1.6"/>
<line x1="486.76" y1="494.5" x2="491.46" y2="494.5" stroke="#000" stroke-width="1.6"/>
<rect x="496.46" y="498.1" width="9.5" height="25.9" fill="#67AA43"/>
<line x1="501.21" y1="490.1" x2="501.21" y2="507.8" stroke="#000" stroke-width="1.5"/>
<line x1="498.86" y1="490.1" x2="503.56" y2="490.1" stroke="#000" stroke-width="1.6"/>
<line x1="498.86" y1="507.8" x2="503.56" y2="507.8" stroke="#000" stroke-width="1.6"/>
<polygon points="456.5,505.3 457.18,506.67 458.69,506.89 457.59,507.96 457.85,509.46 456.5,508.75 455.15,509.46 455.41,507.96 454.31,506.89 455.82,506.67" fill="#000"/>
<polygon points="501.3,480.8 501.98,482.17 503.49,482.39 502.39,483.46 502.65,484.96 501.3,484.25 499.95,484.96 500.21,483.46 499.11,482.39 500.62,482.17" fill="#000"/>
<text x="9.9" y="594.6" font-size="16" text-anchor="start" font-weight="bold" fill="#000" stroke="#000" stroke-width="0.4">D</text>
<text transform="translate(36.8,657.1) rotate(-90)" font-size="12.3" text-anchor="middle" font-weight="bold" fill="#222" textLength="104.6" lengthAdjust="spacingAndGlyphs">% TNF<tspan font-size="9" dy="-4.2">+</tspan><tspan dy="4.2"> of CD11b</tspan><tspan font-size="9" dy="-4.2">+</tspan><tspan dy="4.2">F4/80</tspan><tspan font-size="9" dy="-4.2">+</tspan></text>
<line x1="65" y1="598.8" x2="65" y2="716.5" stroke="#000" stroke-width="1.8"/>
<line x1="61" y1="715.6" x2="240" y2="715.6" stroke="#000" stroke-width="1.8"/>
<line x1="60.5" y1="715.6" x2="65" y2="715.6" stroke="#000" stroke-width="1.5"/>
<text x="56" y="719.56" font-size="11" text-anchor="end" font-weight="normal" fill="#2a2a2a" stroke="#2a2a2a" stroke-width="0.25">0</text>
<line x1="60.5" y1="677.9" x2="65" y2="677.9" stroke="#000" stroke-width="1.5"/>
<text x="56" y="681.86" font-size="11" text-anchor="end" font-weight="normal" fill="#2a2a2a" stroke="#2a2a2a" stroke-width="0.25">10</text>
<line x1="60.5" y1="640.2" x2="65" y2="640.2" stroke="#000" stroke-width="1.5"/>
<text x="56" y="644.16" font-size="11" text-anchor="end" font-weight="normal" fill="#2a2a2a" stroke="#2a2a2a" stroke-width="0.25">20</text>
<line x1="60.5" y1="602.5" x2="65" y2="602.5" stroke="#000" stroke-width="1.5"/>
<text x="56" y="606.46" font-size="11" text-anchor="end" font-weight="normal" fill="#2a2a2a" stroke="#2a2a2a" stroke-width="0.25">30</text>
<line x1="86.5" y1="715.6" x2="86.5" y2="720.1" stroke="#000" stroke-width="1.5"/>
<text x="86.5" y="732.8" font-size="11" text-anchor="middle" font-weight="normal" fill="#2a2a2a" stroke="#2a2a2a" stroke-width="0.25">0</text>
<line x1="130.4" y1="715.6" x2="130.4" y2="720.1" stroke="#000" stroke-width="1.5"/>
<text x="130.4" y="732.8" font-size="11" text-anchor="middle" font-weight="normal" fill="#2a2a2a" stroke="#2a2a2a" stroke-width="0.25">6</text>
<line x1="174.3" y1="715.6" x2="174.3" y2="720.1" stroke="#000" stroke-width="1.5"/>
<text x="174.3" y="732.8" font-size="11" text-anchor="middle" font-weight="normal" fill="#2a2a2a" stroke="#2a2a2a" stroke-width="0.25">10</text>
<line x1="218.2" y1="715.6" x2="218.2" y2="720.1" stroke="#000" stroke-width="1.5"/>
<text x="218.2" y="732.8" font-size="11" text-anchor="middle" font-weight="normal" fill="#2a2a2a" stroke="#2a2a2a" stroke-width="0.25">18</text>
<text transform="translate(152,750.3) scale(0.71,1)" font-size="12.5" text-anchor="middle" font-weight="bold" fill="#222">Time [h]</text>
<rect x="69.75" y="683.8" width="9.5" height="31.8" fill="#AE0530"/>
<line x1="74.5" y1="677.5" x2="74.5" y2="692.5" stroke="#000" stroke-width="1.5"/>
<line x1="72.15" y1="677.5" x2="76.85" y2="677.5" stroke="#000" stroke-width="1.6"/>
<line x1="72.15" y1="692.5" x2="76.85" y2="692.5" stroke="#000" stroke-width="1.6"/>
<rect x="81.75" y="691.8" width="9.5" height="23.8" fill="#2E4D88"/>
<line x1="86.5" y1="681.8" x2="86.5" y2="702.5" stroke="#000" stroke-width="1.5"/>
<line x1="84.15" y1="681.8" x2="88.85" y2="681.8" stroke="#000" stroke-width="1.6"/>
<line x1="84.15" y1="702.5" x2="88.85" y2="702.5" stroke="#000" stroke-width="1.6"/>
<rect x="93.75" y="695.5" width="9.5" height="20.1" fill="#67AA43"/>
<line x1="98.5" y1="691.3" x2="98.5" y2="700" stroke="#000" stroke-width="1.5"/>
<line x1="96.15" y1="691.3" x2="100.85" y2="691.3" stroke="#000" stroke-width="1.6"/>
<line x1="96.15" y1="700" x2="100.85" y2="700" stroke="#000" stroke-width="1.6"/>
<rect x="113.65" y="643" width="9.5" height="72.6" fill="#AE0530"/>
<line x1="118.4" y1="625.5" x2="118.4" y2="661.3" stroke="#000" stroke-width="1.5"/>
<line x1="116.05" y1="625.5" x2="120.75" y2="625.5" stroke="#000" stroke-width="1.6"/>
<line x1="116.05" y1="661.3" x2="120.75" y2="661.3" stroke="#000" stroke-width="1.6"/>
<rect x="125.65" y="647.9" width="9.5" height="67.7" fill="#2E4D88"/>
<line x1="130.4" y1="636.3" x2="130.4" y2="661.3" stroke="#000" stroke-width="1.5"/>
<line x1="128.05" y1="636.3" x2="132.75" y2="636.3" stroke="#000" stroke-width="1.6"/>
<line x1="128.05" y1="661.3" x2="132.75" y2="661.3" stroke="#000" stroke-width="1.6"/>
<rect x="137.65" y="665.9" width="9.5" height="49.7" fill="#67AA43"/>
<line x1="142.4" y1="649.9" x2="142.4" y2="683.4" stroke="#000" stroke-width="1.5"/>
<line x1="140.05" y1="649.9" x2="144.75" y2="649.9" stroke="#000" stroke-width="1.6"/>
<line x1="140.05" y1="683.4" x2="144.75" y2="683.4" stroke="#000" stroke-width="1.6"/>
<rect x="157.55" y="679.7" width="9.5" height="35.9" fill="#AE0530"/>
<line x1="162.3" y1="672.7" x2="162.3" y2="688.3" stroke="#000" stroke-width="1.5"/>
<line x1="159.95" y1="672.7" x2="164.65" y2="672.7" stroke="#000" stroke-width="1.6"/>
<line x1="159.95" y1="688.3" x2="164.65" y2="688.3" stroke="#000" stroke-width="1.6"/>
<rect x="169.55" y="684.8" width="9.5" height="30.8" fill="#2E4D88"/>
<line x1="174.3" y1="676.7" x2="174.3" y2="693.7" stroke="#000" stroke-width="1.5"/>
<line x1="171.95" y1="676.7" x2="176.65" y2="676.7" stroke="#000" stroke-width="1.6"/>
<line x1="171.95" y1="693.7" x2="176.65" y2="693.7" stroke="#000" stroke-width="1.6"/>
<rect x="181.55" y="696.2" width="9.5" height="19.4" fill="#67AA43"/>
<line x1="186.3" y1="691" x2="186.3" y2="703.1" stroke="#000" stroke-width="1.5"/>
<line x1="183.95" y1="691" x2="188.65" y2="691" stroke="#000" stroke-width="1.6"/>
<line x1="183.95" y1="703.1" x2="188.65" y2="703.1" stroke="#000" stroke-width="1.6"/>
<rect x="201.45" y="636.3" width="9.5" height="79.3" fill="#AE0530"/>
<line x1="206.2" y1="598.9" x2="206.2" y2="675.6" stroke="#000" stroke-width="1.5"/>
<line x1="203.85" y1="598.9" x2="208.55" y2="598.9" stroke="#000" stroke-width="1.6"/>
<line x1="203.85" y1="675.6" x2="208.55" y2="675.6" stroke="#000" stroke-width="1.6"/>
<rect x="213.45" y="632.3" width="9.5" height="83.3" fill="#2E4D88"/>
<line x1="218.2" y1="624.2" x2="218.2" y2="642.5" stroke="#000" stroke-width="1.5"/>
<line x1="215.85" y1="624.2" x2="220.55" y2="624.2" stroke="#000" stroke-width="1.6"/>
<line x1="215.85" y1="642.5" x2="220.55" y2="642.5" stroke="#000" stroke-width="1.6"/>
<rect x="225.45" y="647.1" width="9.5" height="68.5" fill="#67AA43"/>
<line x1="230.2" y1="643" x2="230.2" y2="651.4" stroke="#000" stroke-width="1.5"/>
<line x1="227.85" y1="643" x2="232.55" y2="643" stroke="#000" stroke-width="1.6"/>
<line x1="227.85" y1="651.4" x2="232.55" y2="651.4" stroke="#000" stroke-width="1.6"/>
<polygon points="142,640.6 142.68,641.97 144.19,642.19 143.09,643.26 143.35,644.76 142,644.05 140.65,644.76 140.91,643.26 139.81,642.19 141.32,641.97" fill="#000"/>
<polygon points="184.25,683 184.93,684.37 186.44,684.59 185.34,685.66 185.6,687.16 184.25,686.45 182.9,687.16 183.16,685.66 182.06,684.59 183.57,684.37" fill="#000"/>
<polygon points="189.15,683 189.83,684.37 191.34,684.59 190.24,685.66 190.5,687.16 189.15,686.45 187.8,687.16 188.06,685.66 186.96,684.59 188.47,684.37" fill="#000"/>
<text transform="translate(286.1,654.4) rotate(-90)" font-size="12.3" text-anchor="middle" font-weight="bold" fill="#222" textLength="94.6" lengthAdjust="spacingAndGlyphs">MFI TNF CD11b<tspan font-size="9" dy="-4.2">+</tspan><tspan dy="4.2">F4/80</tspan><tspan font-size="9" dy="-4.2">+</tspan></text>
<line x1="333.2" y1="595.4" x2="333.2" y2="716.5" stroke="#000" stroke-width="1.8"/>
<line x1="329.2" y1="715.6" x2="508.3" y2="715.6" stroke="#000" stroke-width="1.8"/>
<line x1="328.7" y1="715.6" x2="333.2" y2="715.6" stroke="#000" stroke-width="1.5"/>
<text x="324.2" y="719.56" font-size="11" text-anchor="end" font-weight="normal" fill="#2a2a2a" stroke="#2a2a2a" stroke-width="0.25">0</text>
<line x1="328.7" y1="686.52" x2="333.2" y2="686.52" stroke="#000" stroke-width="1.5"/>
<text x="324.2" y="690.49" font-size="11" text-anchor="end" font-weight="normal" fill="#2a2a2a" stroke="#2a2a2a" stroke-width="0.25">20000</text>
<line x1="328.7" y1="657.45" x2="333.2" y2="657.45" stroke="#000" stroke-width="1.5"/>
<text x="324.2" y="661.41" font-size="11" text-anchor="end" font-weight="normal" fill="#2a2a2a" stroke="#2a2a2a" stroke-width="0.25">40000</text>
<line x1="328.7" y1="628.38" x2="333.2" y2="628.38" stroke="#000" stroke-width="1.5"/>
<text x="324.2" y="632.34" font-size="11" text-anchor="end" font-weight="normal" fill="#2a2a2a" stroke="#2a2a2a" stroke-width="0.25">60000</text>
<line x1="328.7" y1="599.3" x2="333.2" y2="599.3" stroke="#000" stroke-width="1.5"/>
<text x="324.2" y="603.26" font-size="11" text-anchor="end" font-weight="normal" fill="#2a2a2a" stroke="#2a2a2a" stroke-width="0.25">80000</text>
<line x1="355" y1="715.6" x2="355" y2="720.1" stroke="#000" stroke-width="1.5"/>
<text x="355" y="732.8" font-size="11" text-anchor="middle" font-weight="normal" fill="#2a2a2a" stroke="#2a2a2a" stroke-width="0.25">0</text>
<line x1="399.1" y1="715.6" x2="399.1" y2="720.1" stroke="#000" stroke-width="1.5"/>
<text x="399.1" y="732.8" font-size="11" text-anchor="middle" font-weight="normal" fill="#2a2a2a" stroke="#2a2a2a" stroke-width="0.25">6</text>
<line x1="443.2" y1="715.6" x2="443.2" y2="720.1" stroke="#000" stroke-width="1.5"/>
<text x="443.2" y="732.8" font-size="11" text-anchor="middle" font-weight="normal" fill="#2a2a2a" stroke="#2a2a2a" stroke-width="0.25">10</text>
<line x1="487.3" y1="715.6" x2="487.3" y2="720.1" stroke="#000" stroke-width="1.5"/>
<text x="487.3" y="732.8" font-size="11" text-anchor="middle" font-weight="normal" fill="#2a2a2a" stroke="#2a2a2a" stroke-width="0.25">18</text>
<text transform="translate(420.2,750.3) scale(0.71,1)" font-size="12.5" text-anchor="middle" font-weight="bold" fill="#222">Time [h]</text>
<rect x="338.25" y="709.5" width="9.5" height="6.1" fill="#AE0530"/>
<line x1="343" y1="708.5" x2="343" y2="710.8" stroke="#000" stroke-width="1.5"/>
<line x1="340.65" y1="708.5" x2="345.35" y2="708.5" stroke="#000" stroke-width="1.6"/>
<line x1="340.65" y1="710.8" x2="345.35" y2="710.8" stroke="#000" stroke-width="1.6"/>
<rect x="350.25" y="708" width="9.5" height="7.6" fill="#2E4D88"/>
<line x1="355" y1="706.5" x2="355" y2="710.5" stroke="#000" stroke-width="1.5"/>
<line x1="352.65" y1="706.5" x2="357.35" y2="706.5" stroke="#000" stroke-width="1.6"/>
<line x1="352.65" y1="710.5" x2="357.35" y2="710.5" stroke="#000" stroke-width="1.6"/>
<rect x="362.25" y="710.3" width="9.5" height="5.3" fill="#67AA43"/>
<line x1="367" y1="709.3" x2="367" y2="711.3" stroke="#000" stroke-width="1.5"/>
<line x1="364.65" y1="709.3" x2="369.35" y2="709.3" stroke="#000" stroke-width="1.6"/>
<line x1="364.65" y1="711.3" x2="369.35" y2="711.3" stroke="#000" stroke-width="1.6"/>
<rect x="382.35" y="654.1" width="9.5" height="61.5" fill="#AE0530"/>
<line x1="387.1" y1="609.4" x2="387.1" y2="699.9" stroke="#000" stroke-width="1.5"/>
<line x1="384.75" y1="609.4" x2="389.45" y2="609.4" stroke="#000" stroke-width="1.6"/>
<line x1="384.75" y1="699.9" x2="389.45" y2="699.9" stroke="#000" stroke-width="1.6"/>
<rect x="394.35" y="677.5" width="9.5" height="38.1" fill="#2E4D88"/>
<line x1="399.1" y1="653.8" x2="399.1" y2="702.5" stroke="#000" stroke-width="1.5"/>
<line x1="396.75" y1="653.8" x2="401.45" y2="653.8" stroke="#000" stroke-width="1.6"/>
<line x1="396.75" y1="702.5" x2="401.45" y2="702.5" stroke="#000" stroke-width="1.6"/>
<rect x="406.35" y="706.9" width="9.5" height="8.7" fill="#67AA43"/>
<line x1="411.1" y1="706.5" x2="411.1" y2="709.8" stroke="#000" stroke-width="1.5"/>
<line x1="408.75" y1="706.5" x2="413.45" y2="706.5" stroke="#000" stroke-width="1.6"/>
<line x1="408.75" y1="709.8" x2="413.45" y2="709.8" stroke="#000" stroke-width="1.6"/>
<rect x="426.45" y="661.4" width="9.5" height="54.2" fill="#AE0530"/>
<line x1="431.2" y1="642.8" x2="431.2" y2="681.5" stroke="#000" stroke-width="1.5"/>
<line x1="428.85" y1="642.8" x2="433.55" y2="642.8" stroke="#000" stroke-width="1.6"/>
<line x1="428.85" y1="681.5" x2="433.55" y2="681.5" stroke="#000" stroke-width="1.6"/>
<rect x="438.45" y="669.7" width="9.5" height="45.9" fill="#2E4D88"/>
<line x1="443.2" y1="658.7" x2="443.2" y2="683.4" stroke="#000" stroke-width="1.5"/>
<line x1="440.85" y1="658.7" x2="445.55" y2="658.7" stroke="#000" stroke-width="1.6"/>
<line x1="440.85" y1="683.4" x2="445.55" y2="683.4" stroke="#000" stroke-width="1.6"/>
<rect x="450.45" y="705.2" width="9.5" height="10.4" fill="#67AA43"/>
<line x1="455.2" y1="703.1" x2="455.2" y2="708.5" stroke="#000" stroke-width="1.5"/>
<line x1="452.85" y1="703.1" x2="457.55" y2="703.1" stroke="#000" stroke-width="1.6"/>
<line x1="452.85" y1="708.5" x2="457.55" y2="708.5" stroke="#000" stroke-width="1.6"/>
<rect x="470.55" y="706.3" width="9.5" height="9.3" fill="#AE0530"/>
<line x1="475.3" y1="704.2" x2="475.3" y2="709.8" stroke="#000" stroke-width="1.5"/>
<line x1="472.95" y1="704.2" x2="477.65" y2="704.2" stroke="#000" stroke-width="1.6"/>
<line x1="472.95" y1="709.8" x2="477.65" y2="709.8" stroke="#000" stroke-width="1.6"/>
<rect x="482.55" y="707.1" width="9.5" height="8.5" fill="#2E4D88"/>
<line x1="487.3" y1="704.7" x2="487.3" y2="709.8" stroke="#000" stroke-width="1.5"/>
<line x1="484.95" y1="704.7" x2="489.65" y2="704.7" stroke="#000" stroke-width="1.6"/>
<line x1="484.95" y1="709.8" x2="489.65" y2="709.8" stroke="#000" stroke-width="1.6"/>
<rect x="494.55" y="706.6" width="9.5" height="9" fill="#67AA43"/>
<line x1="499.3" y1="705.2" x2="499.3" y2="709.3" stroke="#000" stroke-width="1.5"/>
<line x1="496.95" y1="705.2" x2="501.65" y2="705.2" stroke="#000" stroke-width="1.6"/>
<line x1="496.95" y1="709.3" x2="501.65" y2="709.3" stroke="#000" stroke-width="1.6"/>
<text x="411.2" y="703.6" font-size="10.5" text-anchor="middle" font-weight="bold" fill="#000">#</text>
<text x="10.8" y="788" font-size="16" text-anchor="start" font-weight="bold" fill="#000" stroke="#000" stroke-width="0.4">E</text>
<text transform="translate(35.9,848.6) rotate(-90)" font-size="12.3" text-anchor="middle" font-weight="bold" fill="#222" textLength="106.9" lengthAdjust="spacingAndGlyphs">% IL-10<tspan font-size="9" dy="-4.2">+</tspan><tspan dy="4.2"> of CD11b</tspan><tspan font-size="9" dy="-4.2">+</tspan><tspan dy="4.2">F4/80</tspan><tspan font-size="9" dy="-4.2">+</tspan></text>
<line x1="65" y1="788.8" x2="65" y2="908.8" stroke="#000" stroke-width="1.8"/>
<line x1="61" y1="907.9" x2="238.7" y2="907.9" stroke="#000" stroke-width="1.8"/>
<line x1="60.5" y1="907.9" x2="65" y2="907.9" stroke="#000" stroke-width="1.5"/>
<text x="56" y="911.86" font-size="11" text-anchor="end" font-weight="normal" fill="#2a2a2a" stroke="#2a2a2a" stroke-width="0.25">0</text>
<line x1="60.5" y1="869.27" x2="65" y2="869.27" stroke="#000" stroke-width="1.5"/>
<text x="56" y="873.23" font-size="11" text-anchor="end" font-weight="normal" fill="#2a2a2a" stroke="#2a2a2a" stroke-width="0.25">10</text>
<line x1="60.5" y1="830.63" x2="65" y2="830.63" stroke="#000" stroke-width="1.5"/>
<text x="56" y="834.59" font-size="11" text-anchor="end" font-weight="normal" fill="#2a2a2a" stroke="#2a2a2a" stroke-width="0.25">20</text>
<line x1="60.5" y1="792" x2="65" y2="792" stroke="#000" stroke-width="1.5"/>
<text x="56" y="795.96" font-size="11" text-anchor="end" font-weight="normal" fill="#2a2a2a" stroke="#2a2a2a" stroke-width="0.25">30</text>
<line x1="86.5" y1="907.9" x2="86.5" y2="912.4" stroke="#000" stroke-width="1.5"/>
<text x="86.5" y="925.5" font-size="11" text-anchor="middle" font-weight="normal" fill="#2a2a2a" stroke="#2a2a2a" stroke-width="0.25">0</text>
<line x1="130.1" y1="907.9" x2="130.1" y2="912.4" stroke="#000" stroke-width="1.5"/>
<text x="130.1" y="925.5" font-size="11" text-anchor="middle" font-weight="normal" fill="#2a2a2a" stroke="#2a2a2a" stroke-width="0.25">6</text>
<line x1="173.7" y1="907.9" x2="173.7" y2="912.4" stroke="#000" stroke-width="1.5"/>
<text x="173.7" y="925.5" font-size="11" text-anchor="middle" font-weight="normal" fill="#2a2a2a" stroke="#2a2a2a" stroke-width="0.25">10</text>
<line x1="217.3" y1="907.9" x2="217.3" y2="912.4" stroke="#000" stroke-width="1.5"/>
<text x="217.3" y="925.5" font-size="11" text-anchor="middle" font-weight="normal" fill="#2a2a2a" stroke="#2a2a2a" stroke-width="0.25">18</text>
<text transform="translate(152.9,942.9) scale(0.71,1)" font-size="12.5" text-anchor="middle" font-weight="bold" fill="#222">Time [h]</text>
<rect x="69.75" y="858.5" width="9.5" height="49.4" fill="#AE0530"/>
<line x1="74.5" y1="850.4" x2="74.5" y2="867.2" stroke="#000" stroke-width="1.5"/>
<line x1="72.15" y1="850.4" x2="76.85" y2="850.4" stroke="#000" stroke-width="1.6"/>
<line x1="72.15" y1="867.2" x2="76.85" y2="867.2" stroke="#000" stroke-width="1.6"/>
<rect x="81.75" y="867.9" width="9.5" height="40" fill="#2E4D88"/>
<line x1="86.5" y1="860.3" x2="86.5" y2="876.9" stroke="#000" stroke-width="1.5"/>
<line x1="84.15" y1="860.3" x2="88.85" y2="860.3" stroke="#000" stroke-width="1.6"/>
<line x1="84.15" y1="876.9" x2="88.85" y2="876.9" stroke="#000" stroke-width="1.6"/>
<rect x="93.75" y="878.5" width="9.5" height="29.4" fill="#67AA43"/>
<line x1="98.5" y1="877.9" x2="98.5" y2="879.9" stroke="#000" stroke-width="1.5"/>
<line x1="96.15" y1="877.9" x2="100.85" y2="877.9" stroke="#000" stroke-width="1.6"/>
<line x1="96.15" y1="879.9" x2="100.85" y2="879.9" stroke="#000" stroke-width="1.6"/>
<rect x="113.35" y="870.5" width="9.5" height="37.4" fill="#AE0530"/>
<line x1="118.1" y1="865.8" x2="118.1" y2="876.5" stroke="#000" stroke-width="1.5"/>
<line x1="115.75" y1="865.8" x2="120.45" y2="865.8" stroke="#000" stroke-width="1.6"/>
<line x1="115.75" y1="876.5" x2="120.45" y2="876.5" stroke="#000" stroke-width="1.6"/>
<rect x="125.35" y="886.6" width="9.5" height="21.3" fill="#2E4D88"/>
<line x1="130.1" y1="880.4" x2="130.1" y2="894.2" stroke="#000" stroke-width="1.5"/>
<line x1="127.75" y1="880.4" x2="132.45" y2="880.4" stroke="#000" stroke-width="1.6"/>
<line x1="127.75" y1="894.2" x2="132.45" y2="894.2" stroke="#000" stroke-width="1.6"/>
<rect x="137.35" y="884" width="9.5" height="23.9" fill="#67AA43"/>
<line x1="142.1" y1="883.5" x2="142.1" y2="885.1" stroke="#000" stroke-width="1.5"/>
<line x1="139.75" y1="883.5" x2="144.45" y2="883.5" stroke="#000" stroke-width="1.6"/>
<line x1="139.75" y1="885.1" x2="144.45" y2="885.1" stroke="#000" stroke-width="1.6"/>
<rect x="156.95" y="849.3" width="9.5" height="58.6" fill="#AE0530"/>
<line x1="161.7" y1="842.3" x2="161.7" y2="857.9" stroke="#000" stroke-width="1.5"/>
<line x1="159.35" y1="842.3" x2="164.05" y2="842.3" stroke="#000" stroke-width="1.6"/>
<line x1="159.35" y1="857.9" x2="164.05" y2="857.9" stroke="#000" stroke-width="1.6"/>
<rect x="168.95" y="851.2" width="9.5" height="56.7" fill="#2E4D88"/>
<line x1="173.7" y1="839.6" x2="173.7" y2="864.6" stroke="#000" stroke-width="1.5"/>
<line x1="171.35" y1="839.6" x2="176.05" y2="839.6" stroke="#000" stroke-width="1.6"/>
<line x1="171.35" y1="864.6" x2="176.05" y2="864.6" stroke="#000" stroke-width="1.6"/>
<rect x="180.95" y="857.9" width="9.5" height="50" fill="#67AA43"/>
<line x1="185.7" y1="850.3" x2="185.7" y2="866.8" stroke="#000" stroke-width="1.5"/>
<line x1="183.35" y1="850.3" x2="188.05" y2="850.3" stroke="#000" stroke-width="1.6"/>
<line x1="183.35" y1="866.8" x2="188.05" y2="866.8" stroke="#000" stroke-width="1.6"/>
<rect x="200.55" y="836.9" width="9.5" height="71" fill="#AE0530"/>
<line x1="205.3" y1="820.2" x2="205.3" y2="855.7" stroke="#000" stroke-width="1.5"/>
<line x1="202.95" y1="820.2" x2="207.65" y2="820.2" stroke="#000" stroke-width="1.6"/>
<line x1="202.95" y1="855.7" x2="207.65" y2="855.7" stroke="#000" stroke-width="1.6"/>
<rect x="212.55" y="856.5" width="9.5" height="51.4" fill="#2E4D88"/>
<line x1="217.3" y1="841.7" x2="217.3" y2="873.2" stroke="#000" stroke-width="1.5"/>
<line x1="214.95" y1="841.7" x2="219.65" y2="841.7" stroke="#000" stroke-width="1.6"/>
<line x1="214.95" y1="873.2" x2="219.65" y2="873.2" stroke="#000" stroke-width="1.6"/>
<rect x="224.55" y="847.1" width="9.5" height="60.8" fill="#67AA43"/>
<line x1="229.3" y1="833.7" x2="229.3" y2="863.3" stroke="#000" stroke-width="1.5"/>
<line x1="226.95" y1="833.7" x2="231.65" y2="833.7" stroke="#000" stroke-width="1.6"/>
<line x1="226.95" y1="863.3" x2="231.65" y2="863.3" stroke="#000" stroke-width="1.6"/>
<text transform="translate(292.4,848) rotate(-90)" font-size="12.3" text-anchor="middle" font-weight="bold" fill="#222" textLength="100.1" lengthAdjust="spacingAndGlyphs">MFI IL-10 CD11b<tspan font-size="9" dy="-4.2">+</tspan><tspan dy="4.2"> F4/80</tspan><tspan font-size="9" dy="-4.2">+</tspan></text>
<line x1="333.2" y1="788.8" x2="333.2" y2="908.8" stroke="#000" stroke-width="1.8"/>
<line x1="329.2" y1="907.9" x2="507" y2="907.9" stroke="#000" stroke-width="1.8"/>
<line x1="328.7" y1="907.9" x2="333.2" y2="907.9" stroke="#000" stroke-width="1.5"/>
<text x="324.2" y="911.86" font-size="11" text-anchor="end" font-weight="normal" fill="#2a2a2a" stroke="#2a2a2a" stroke-width="0.25">0</text>
<line x1="328.7" y1="869.27" x2="333.2" y2="869.27" stroke="#000" stroke-width="1.5"/>
<text x="324.2" y="873.23" font-size="11" text-anchor="end" font-weight="normal" fill="#2a2a2a" stroke="#2a2a2a" stroke-width="0.25">1000</text>
<line x1="328.7" y1="830.63" x2="333.2" y2="830.63" stroke="#000" stroke-width="1.5"/>
<text x="324.2" y="834.59" font-size="11" text-anchor="end" font-weight="normal" fill="#2a2a2a" stroke="#2a2a2a" stroke-width="0.25">2000</text>
<line x1="328.7" y1="792" x2="333.2" y2="792" stroke="#000" stroke-width="1.5"/>
<text x="324.2" y="795.96" font-size="11" text-anchor="end" font-weight="normal" fill="#2a2a2a" stroke="#2a2a2a" stroke-width="0.25">3000</text>
<line x1="355" y1="907.9" x2="355" y2="912.4" stroke="#000" stroke-width="1.5"/>
<text x="355" y="925.5" font-size="11" text-anchor="middle" font-weight="normal" fill="#2a2a2a" stroke="#2a2a2a" stroke-width="0.25">0</text>
<line x1="398.5" y1="907.9" x2="398.5" y2="912.4" stroke="#000" stroke-width="1.5"/>
<text x="398.5" y="925.5" font-size="11" text-anchor="middle" font-weight="normal" fill="#2a2a2a" stroke="#2a2a2a" stroke-width="0.25">6</text>
<line x1="442" y1="907.9" x2="442" y2="912.4" stroke="#000" stroke-width="1.5"/>
<text x="442" y="925.5" font-size="11" text-anchor="middle" font-weight="normal" fill="#2a2a2a" stroke="#2a2a2a" stroke-width="0.25">10</text>
<line x1="485.5" y1="907.9" x2="485.5" y2="912.4" stroke="#000" stroke-width="1.5"/>
<text x="485.5" y="925.5" font-size="11" text-anchor="middle" font-weight="normal" fill="#2a2a2a" stroke="#2a2a2a" stroke-width="0.25">18</text>
<text transform="translate(420,942.9) scale(0.71,1)" font-size="12.5" text-anchor="middle" font-weight="bold" fill="#222">Time [h]</text>
<rect x="338.25" y="815.8" width="9.5" height="92.1" fill="#AE0530"/>
<line x1="343" y1="808" x2="343" y2="823.8" stroke="#000" stroke-width="1.5"/>
<line x1="340.65" y1="808" x2="345.35" y2="808" stroke="#000" stroke-width="1.6"/>
<line x1="340.65" y1="823.8" x2="345.35" y2="823.8" stroke="#000" stroke-width="1.6"/>
<rect x="350.25" y="817.5" width="9.5" height="90.4" fill="#2E4D88"/>
<line x1="355" y1="813.8" x2="355" y2="821.3" stroke="#000" stroke-width="1.5"/>
<line x1="352.65" y1="813.8" x2="357.35" y2="813.8" stroke="#000" stroke-width="1.6"/>
<line x1="352.65" y1="821.3" x2="357.35" y2="821.3" stroke="#000" stroke-width="1.6"/>
<rect x="362.25" y="829.3" width="9.5" height="78.6" fill="#67AA43"/>
<line x1="367" y1="827.5" x2="367" y2="830.8" stroke="#000" stroke-width="1.5"/>
<line x1="364.65" y1="827.5" x2="369.35" y2="827.5" stroke="#000" stroke-width="1.6"/>
<line x1="364.65" y1="830.8" x2="369.35" y2="830.8" stroke="#000" stroke-width="1.6"/>
<rect x="381.75" y="828.3" width="9.5" height="79.6" fill="#AE0530"/>
<line x1="386.5" y1="826.9" x2="386.5" y2="830.2" stroke="#000" stroke-width="1.5"/>
<line x1="384.15" y1="826.9" x2="388.85" y2="826.9" stroke="#000" stroke-width="1.6"/>
<line x1="384.15" y1="830.2" x2="388.85" y2="830.2" stroke="#000" stroke-width="1.6"/>
<rect x="393.75" y="828.8" width="9.5" height="79.1" fill="#2E4D88"/>
<line x1="398.5" y1="827" x2="398.5" y2="830.8" stroke="#000" stroke-width="1.5"/>
<line x1="396.15" y1="827" x2="400.85" y2="827" stroke="#000" stroke-width="1.6"/>
<line x1="396.15" y1="830.8" x2="400.85" y2="830.8" stroke="#000" stroke-width="1.6"/>
<rect x="405.75" y="831.5" width="9.5" height="76.4" fill="#67AA43"/>
<line x1="410.5" y1="829.1" x2="410.5" y2="833.9" stroke="#000" stroke-width="1.5"/>
<line x1="408.15" y1="829.1" x2="412.85" y2="829.1" stroke="#000" stroke-width="1.6"/>
<line x1="408.15" y1="833.9" x2="412.85" y2="833.9" stroke="#000" stroke-width="1.6"/>
<rect x="425.25" y="822.1" width="9.5" height="85.8" fill="#AE0530"/>
<line x1="430" y1="814" x2="430" y2="830.2" stroke="#000" stroke-width="1.5"/>
<line x1="427.65" y1="814" x2="432.35" y2="814" stroke="#000" stroke-width="1.6"/>
<line x1="427.65" y1="830.2" x2="432.35" y2="830.2" stroke="#000" stroke-width="1.6"/>
<rect x="437.25" y="824.2" width="9.5" height="83.7" fill="#2E4D88"/>
<line x1="442" y1="819.7" x2="442" y2="828.8" stroke="#000" stroke-width="1.5"/>
<line x1="439.65" y1="819.7" x2="444.35" y2="819.7" stroke="#000" stroke-width="1.6"/>
<line x1="439.65" y1="828.8" x2="444.35" y2="828.8" stroke="#000" stroke-width="1.6"/>
<rect x="449.25" y="830.4" width="9.5" height="77.5" fill="#67AA43"/>
<line x1="454" y1="830" x2="454" y2="831" stroke="#000" stroke-width="1.5"/>
<line x1="451.65" y1="830" x2="456.35" y2="830" stroke="#000" stroke-width="1.6"/>
<line x1="451.65" y1="831" x2="456.35" y2="831" stroke="#000" stroke-width="1.6"/>
<rect x="468.75" y="828.3" width="9.5" height="79.6" fill="#AE0530"/>
<line x1="473.5" y1="823.4" x2="473.5" y2="833.1" stroke="#000" stroke-width="1.5"/>
<line x1="471.15" y1="823.4" x2="475.85" y2="823.4" stroke="#000" stroke-width="1.6"/>
<line x1="471.15" y1="833.1" x2="475.85" y2="833.1" stroke="#000" stroke-width="1.6"/>
<rect x="480.75" y="828.3" width="9.5" height="79.6" fill="#2E4D88"/>
<line x1="485.5" y1="825.6" x2="485.5" y2="831.5" stroke="#000" stroke-width="1.5"/>
<line x1="483.15" y1="825.6" x2="487.85" y2="825.6" stroke="#000" stroke-width="1.6"/>
<line x1="483.15" y1="831.5" x2="487.85" y2="831.5" stroke="#000" stroke-width="1.6"/>
<rect x="492.75" y="833.1" width="9.5" height="74.8" fill="#67AA43"/>
<line x1="497.5" y1="830.4" x2="497.5" y2="836.9" stroke="#000" stroke-width="1.5"/>
<line x1="495.15" y1="830.4" x2="499.85" y2="830.4" stroke="#000" stroke-width="1.6"/>
<line x1="495.15" y1="836.9" x2="499.85" y2="836.9" stroke="#000" stroke-width="1.6"/>
</svg></div></body></html>
